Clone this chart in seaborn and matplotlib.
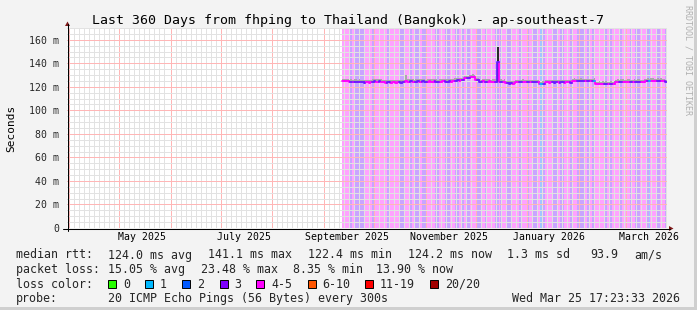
import numpy as np
import pandas as pd
import matplotlib
matplotlib.use("Agg")
import matplotlib.pyplot as plt
import matplotlib.dates as mdates
import matplotlib.transforms as mtransforms
from matplotlib.lines import Line2D
from matplotlib.patches import Rectangle, Polygon
from matplotlib.ticker import NullFormatter, MultipleLocator
import seaborn as sns

# ---------------- data ----------------
title = "Last 360 Days from fhping to Thailand (Bangkok) - ap-southeast-7"
range_start = "2025-03-30 17:23:33"
range_end = "2026-03-25 17:23:33"
data_start = "2025-09-11 17:23:33"

# one code per day: P = loss 4-5, V = loss 3, B = loss 1
loss_codes = ("PPPPPVPVVVPVVVPPPPVVPPVPPPPVVPPPPPVVVPPPPVPPVVPPVVVPPPPPVVPPPPVV"
              "VPPPVVPPVPPVVPPPPVVVPPVPPPPPVVPVPPPVVVPPPPVVPPPVPPVVVPPBVVPPPPVVV"
              "PPVVPPPPVPPPVVVVPPVPPVBPPPPPVVPPVPPPPVVPPPPPVPPVVVPPPPVBPPPPVVPPPV")

median_ms = [
    124.8, 124.9, 124.6, 124.7,
    124.3, 124.2, 124.4, 124.1, 124.3, 124.2, 124.0, 124.2,
    123.7, 123.6, 123.8, 123.7, 123.5, 123.8,
    124.5, 124.6, 124.4, 124.5, 124.7, 124.3,
    123.7, 123.8, 123.6, 123.7, 123.9, 123.6, 123.7, 123.8, 123.5, 123.7, 123.8, 123.6, 123.7, 123.9,
    124.6,
    124.5, 124.4, 124.6, 124.5, 124.3, 124.5, 124.6, 124.4, 124.5, 124.7, 124.4, 124.5, 124.3, 124.6,
    124.5, 124.4, 124.6, 124.5, 124.3, 124.5, 124.4, 124.6, 124.7, 124.5, 124.4, 124.6, 124.5, 124.8, 124.9,
    125.2, 125.4, 125.3, 125.5, 125.6,
    127.4, 127.6, 127.5, 127.8,
    128.2, 128.4, 128.3,
    125.8, 125.5,
    124.5, 124.4, 124.6, 124.5, 124.3, 124.5, 124.6, 124.4, 124.5, 124.3, 124.5,
    141.1,
    124.3, 124.2, 124.1, 124.3,
    122.9, 123.1, 122.8, 123.0, 122.7, 123.2,
    124.0, 124.1, 123.9, 124.0, 124.2, 123.8, 124.0, 124.1, 123.9, 124.0, 124.1, 123.8, 124.0, 124.1,
    122.7, 122.5, 122.8, 122.6,
    123.7, 123.8, 123.6, 123.7, 123.9, 123.6, 123.7, 123.8, 123.5, 123.7, 123.8, 123.6, 123.7, 123.9, 123.7, 123.6,
    124.8, 124.9, 124.7, 124.8, 124.6, 124.9, 124.8, 124.7, 124.9, 124.8, 124.6, 124.8, 124.7, 124.9,
    122.5, 122.4, 122.6, 122.5, 122.7, 122.4, 122.6, 122.5, 122.4, 122.6, 122.5, 122.7,
    124.2, 124.3, 124.1, 124.2, 124.4, 124.2, 124.1, 124.3, 124.2, 124.0, 124.2, 124.3, 124.1, 124.2, 124.4, 124.2, 124.1, 124.3,
    125.0, 125.1, 124.9, 125.0, 125.2, 124.9, 125.0, 125.1, 124.8, 125.0, 124.9, 124.6, 124.2,
]

smoke_top_ms = [
    126.8, 127.0, 126.5, 126.9,
    126.2, 126.5, 126.0, 126.3, 126.6, 126.1, 126.4, 126.2,
    125.5, 125.9, 125.6, 125.4, 125.8, 125.7,
    126.8, 126.5, 126.9, 126.4, 126.7, 126.3,
    125.6, 125.9, 125.4, 125.8, 125.7, 125.5, 125.9, 125.6, 125.4, 125.8, 125.7, 125.5, 125.9, 125.8,
    130.0,
    126.3, 126.6, 126.4, 126.8, 126.2, 126.5, 126.9, 126.4, 126.3, 126.7, 126.5, 126.2, 126.6, 126.4,
    126.8, 126.3, 126.5, 126.7, 126.2, 126.6, 126.4, 126.9, 126.5, 126.3, 126.7, 126.4, 126.6, 127.0, 127.2,
    127.4, 127.6, 127.3, 127.8, 127.9,
    129.3, 129.6, 129.2, 129.7,
    130.2, 130.5, 130.1,
    127.8, 127.2,
    126.5, 126.2, 126.7, 126.4, 126.3, 126.6, 126.8, 126.2, 126.5, 126.4, 126.7,
    154.0,
    126.1, 126.4, 126.0, 126.3,
    124.9, 125.2, 124.8, 125.1, 124.7, 125.3,
    125.9, 126.2, 125.8, 126.0, 126.3, 125.7, 126.1, 125.9, 125.8, 126.2, 126.0, 125.7, 126.1, 125.9,
    124.6, 124.4, 124.8, 124.5,
    125.6, 125.9, 125.5, 125.8, 126.0, 125.4, 125.7, 125.9, 125.5, 125.8, 125.6, 125.4, 125.9, 126.0, 125.7, 125.5,
    126.9, 127.1, 126.7, 126.9, 126.6, 127.2, 126.8, 126.7, 127.0, 126.9, 126.5, 126.8, 126.7, 127.1,
    124.5, 124.3, 124.6, 124.4, 124.8, 124.3, 124.6, 124.5, 124.4, 124.7, 124.5, 124.8,
    126.2, 126.4, 126.1, 126.3, 126.5, 126.2, 126.0, 126.4, 126.3, 126.1, 126.2, 126.4, 126.0, 126.3, 126.5, 126.2, 126.1, 126.4,
    127.0, 127.2, 126.9, 127.1, 127.3, 126.8, 127.0, 127.2, 126.8, 127.1, 126.9, 126.6, 126.2,
]

# days whose smoke reaches below the median (day index -> lowest ping, ms)
smoke_low_ms = {93: 124.3}

y_ticks = [0, 20, 40, 60, 80, 100, 120, 140, 160]
y_tick_labels = ["0", "20 m", "40 m", "60 m", "80 m", "100 m", "120 m", "140 m", "160 m"]
x_label_dates = ["2025-05-15", "2025-07-15", "2025-09-15", "2025-11-15", "2026-01-14", "2026-03-15"]
x_labels = ["May 2025", "July 2025", "September 2025", "November 2025", "January 2026", "March 2026"]

rtt_stats = ["124.0 ms avg", "141.1 ms max", "122.4 ms min", "124.2 ms now", "1.3 ms sd", "93.9", "am/s"]
loss_stats = ["15.05 % avg", "23.48 % max", "8.35 % min", "13.90 % now"]
loss_legend_labels = ["0", "1", "2", "3", "4-5", "6-10", "11-19", "20/20"]
loss_legend_colors = ["#26ff00", "#00b8ff", "#0059ff", "#7e00ff", "#ff00ff", "#ff5500", "#ff0000", "#a10000"]
probe_text = "20 ICMP Echo Pings (56 Bytes) every 300s"
stamp_text = "Wed Mar 25 17:23:33 2026"

# ---------------- style ----------------
fill_colors = {"P": "#ffa2ff", "V": "#c8a4ff", "B": "#a2c4ff"}
line_colors = {"P": "#ff00ff", "V": "#6a1aff", "B": "#00b8ff"}

sns.set_theme(style="white")
plt.rcParams["font.family"] = ["DejaVu Sans Mono"]

W, H = 697, 310
BG = "#f3f3f3"
fig = plt.figure(figsize=(W / 100, H / 100), dpi=100, facecolor=BG)


def fx(px):
    return px / W


def fy(py):
    return 1 - py / H


ax = fig.add_axes([fx(67), fy(228), 600 / W, 200 / H])
ax.set_facecolor("white")

t0 = mdates.date2num(pd.Timestamp(range_start))
t1 = mdates.date2num(pd.Timestamp(range_end))
ds = mdates.date2num(pd.Timestamp(data_start))
n = len(median_ms)
edges = ds + np.arange(n + 1)
codes = list(loss_codes[:n])

# loss background stripes (runs of equal loss)
i = 0
while i < n:
    j = i
    while j + 1 < n and codes[j + 1] == codes[i]:
        j += 1
    ax.bar(edges[i], 170, width=edges[j + 1] - edges[i], align="edge",
           color=fill_colors[codes[i]], linewidth=0, zorder=0.5)
    i = j + 1

# smoke
med = np.array(median_ms)
top = np.array(smoke_top_ms)
ax.fill_between(edges, np.append(med, med[-1]), np.append(top, top[-1]),
                step="post", color="#a8a8a8", linewidth=0, zorder=3)
for d, low in smoke_low_ms.items():
    ax.bar(edges[d], top[d] - low, bottom=low, width=1.0, align="edge",
           color="#2a2a2a", linewidth=0, zorder=3.2)

# median line, coloured by loss
rows = []
for k in range(n):
    if k > 0:
        rows.append((edges[k], med[k - 1], k, codes[k]))
    rows.append((edges[k], med[k], k, codes[k]))
    rows.append((edges[k + 1], med[k], k, codes[k]))
df = pd.DataFrame(rows, columns=["t", "v", "seg", "loss"])
sns.lineplot(data=df, x="t", y="v", hue="loss", units="seg", estimator=None,
             palette=line_colors, legend=False, sort=False, linewidth=1.3,
             ax=ax, zorder=4)

ax.set_xlim(t0, t1)
ax.set_ylim(0, 170)
ax.set_xlabel("")
ax.set_ylabel("")

# grid
ax.xaxis.set_major_locator(mdates.MonthLocator())
ax.xaxis.set_minor_locator(mdates.DayLocator(bymonthday=list(range(4, 30, 3))))
ax.xaxis.set_major_formatter(NullFormatter())
ax.set_yticks(y_ticks)
ax.set_yticklabels(y_tick_labels, fontsize=7.1)
ax.yaxis.set_minor_locator(MultipleLocator(5))
ax.set_axisbelow(False)
ax.grid(which="minor", color="#e2e2e2", linestyle="-", linewidth=0.72)
ax.grid(which="major", color="#ffb6b6", linestyle="-", linewidth=0.72)
ax.tick_params(which="major", direction="out", length=2.9, width=0.72, color="#444444", pad=2.6)
ax.tick_params(which="minor", direction="out", length=1.5, width=0.72, color="#888888")
for s in ax.spines.values():
    s.set_visible(False)

# x labels centred in the month
trans = mtransforms.blended_transform_factory(ax.transData, ax.transAxes)
for d, lab in zip(x_label_dates, x_labels):
    ax.text(mdates.date2num(pd.Timestamp(d)), -0.0575, lab, transform=trans,
            ha="center", va="baseline", fontsize=7.1, color="black")

# axis lines with arrows
fig.add_artist(Line2D([fx(67.5), fx(67.5)], [fy(231), fy(24)], color="black", lw=0.75,
                      transform=fig.transFigure))
fig.add_artist(Line2D([fx(63), fx(670)], [fy(228.5), fy(228.5)], color="black", lw=0.75,
                      transform=fig.transFigure))
fig.add_artist(Polygon([[fx(65), fy(26)], [fx(70), fy(26)], [fx(67.5), fy(21.5)]], closed=True,
                       facecolor="#7f1a1a", edgecolor="none", transform=fig.transFigure))
fig.add_artist(Polygon([[fx(669), fy(226)], [fx(669), fy(231)], [fx(673.5), fy(228.5)]], closed=True,
                       facecolor="#7f1a1a", edgecolor="none", transform=fig.transFigure))

# title and labels
fig.text(fx(347.5), fy(24), title, ha="center", va="baseline", fontsize=9.5, color="black")
fig.text(fx(11), fy(128), "Seconds", ha="center", va="center", rotation=90, fontsize=8, color="black")
fig.text(fx(688), fy(60), "RRDTOOL / TOBI OETIKER", ha="center", va="center", rotation=-90,
         fontsize=6, color="#b0b0b0")

# legend
LF = 8.35
rows_y = [258.5, 273, 287.5, 302]
fig.text(fx(16), fy(rows_y[0]), "median rtt:", fontsize=LF, va="baseline")
for xp, s in zip([107.6, 207.6, 308.4, 408.4, 506.7, 590.5, 634], rtt_stats):
    fig.text(fx(xp), fy(rows_y[0]), s, fontsize=LF, va="baseline")
fig.text(fx(16), fy(rows_y[1]), "packet loss:", fontsize=LF, va="baseline")
for xp, s in zip([107.6, 200.9, 293.3, 376], loss_stats):
    fig.text(fx(xp), fy(rows_y[1]), s, fontsize=LF, va="baseline")
fig.text(fx(16), fy(rows_y[2]), "loss color:", fontsize=LF, va="baseline")
box_x = [108.4, 145.3, 182.2, 219.6, 256.4, 307.6, 365.3, 430.2]
for bx, lab, col in zip(box_x, loss_legend_labels, loss_legend_colors):
    fig.add_artist(Rectangle((fx(bx), fy(rows_y[2])), 8 / W, 8 / H, facecolor=col,
                             edgecolor="black", linewidth=0.7, transform=fig.transFigure))
    fig.text(fx(bx + 14.6), fy(rows_y[2]), lab, fontsize=LF, va="baseline")
fig.text(fx(16), fy(rows_y[3]), "probe:", fontsize=LF, va="baseline")
fig.text(fx(107.6), fy(rows_y[3]), probe_text, fontsize=LF, va="baseline")
fig.text(fx(680), fy(rows_y[3]), stamp_text, fontsize=LF, va="baseline", ha="right")

# frame
fig.add_artist(Rectangle((fx(694), 0), 3 / W, 1, facecolor="#cfcfcf", edgecolor="none",
                         transform=fig.transFigure))
fig.add_artist(Rectangle((0, 0), 1, 3 / H, facecolor="#cfcfcf", edgecolor="none",
                         transform=fig.transFigure))

fig.savefig("out.png", dpi=100, facecolor=BG)
